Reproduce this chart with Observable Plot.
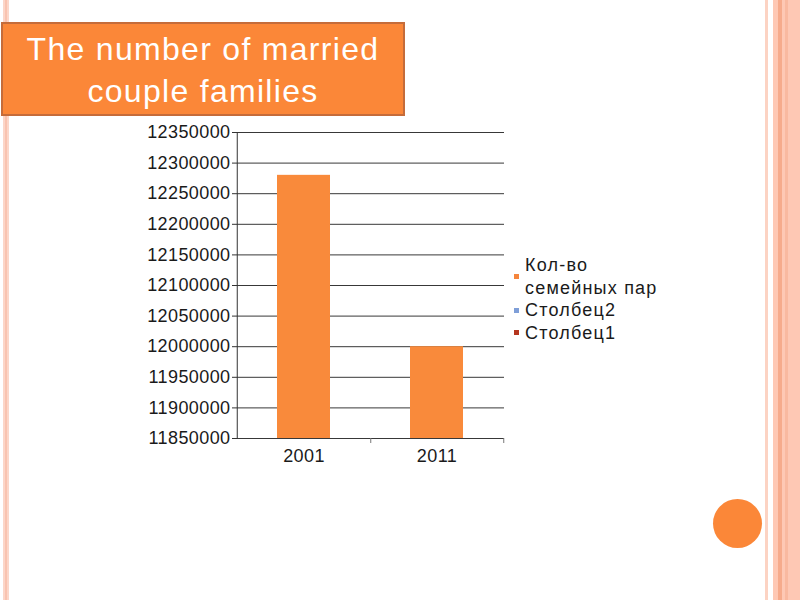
<!DOCTYPE html>
<html>
<head>
<meta charset="utf-8">
<script src="https://cdn.jsdelivr.net/npm/d3@7"></script>
<script src="https://cdn.jsdelivr.net/npm/@observablehq/plot@0.6"></script>
<style>
html, body { margin: 0; padding: 0; background: #fff; }
#page { position: relative; width: 800px; height: 600px; overflow: hidden; font-family: "Liberation Sans", Arial, sans-serif; }
.abs { position: absolute; }
#chart { position: absolute; left: 0; top: 0; }
#title { position: absolute; left: 1px; top: 22px; width: 400px; height: 90px; background: #fb8738; border: 2px solid #c56c3a; color: #fff; font-size: 32px; letter-spacing: 1.3px; line-height: 42px; text-align: center; box-sizing: content-box; }
#title div { position: relative; top: 4px; }
#legend { position: absolute; left: 514px; top: 254px; font-size: 18px; letter-spacing: 1.2px; line-height: 22.5px; color: #1a1a1a; }
.item { display: flex; align-items: center; }
.sw { width: 5px; height: 5px; margin-right: 6px; flex: none; }
.lab { width: 150px; }
</style>
</head>
<body>
<div id="page">
  <div class="abs" style="left:3px;top:0;width:6px;height:600px;background:#fcd6c8;"></div>
  <div class="abs" style="left:5px;top:0;width:2px;height:600px;background:#f9c3b0;"></div>
  <div class="abs" style="left:765px;top:0;width:3px;height:600px;background:#fcd3c3;"></div>
  <div class="abs" style="left:773px;top:0;width:27px;height:600px;background:#fec8b4;"></div>
  <div class="abs" style="left:778px;top:0;width:4px;height:600px;background:#f6ab8c;"></div>
  <div class="abs" style="left:785px;top:0;width:3px;height:600px;background:#f9b9a0;"></div>
  <div id="chart"></div>
  <div id="title"><div>The number of married<br>couple families</div></div>
  <div id="legend"></div>
  <div class="abs" style="left:713px;top:499px;width:49px;height:49px;border-radius:50%;background:#fb8738;"></div>
</div>
<script>
// ---- data ----
const years = ["2001", "2011"];
const couples = [12280000, 12000000];
const yTicks = [11850000, 11900000, 11950000, 12000000, 12050000, 12100000, 12150000, 12200000, 12250000, 12300000, 12350000];
const seriesNames = ["Кол-во семейных пар", "Столбец2", "Столбец1"];

// ---- styles ----
const seriesColors = ["#f5853c", "#7f9fd8", "#b5361f"];
const barColor = "#f98a3b";

const W = 800, H = 600, mL = 237, mR = 296, mT = 132, mB = 162;
const step = (W - mL - mR) / years.length;
const data = years.map((y, i) => ({year: y, value: couples[i]}));

const chart = Plot.plot({
  width: W, height: H,
  marginLeft: mL, marginRight: mR, marginTop: mT, marginBottom: mB,
  style: {background: "transparent", fontFamily: '"Liberation Sans", Arial, sans-serif', fontSize: "18px", color: "#1a1a1a", overflow: "visible", letterSpacing: "0.4px"},
  x: {domain: years, paddingInner: 0.6, paddingOuter: 0.3, label: null},
  y: {domain: [yTicks[0], yTicks[yTicks.length - 1]], label: null},
  marks: [
    Plot.ruleY(yTicks, {stroke: "#383838", strokeOpacity: 1}),
    Plot.barY(data, {x: "year", y1: yTicks[0], y2: "value", fill: barColor}),
    Plot.ruleX([years[0]], {x: d => d, dx: -step / 2, stroke: "#333"}),
    Plot.ruleX(years, {x: d => d, dx: step / 2, y1: yTicks[0], y2: yTicks[0], insetBottom: -5, stroke: "#777"}),
    Plot.axisY({ticks: yTicks, tickFormat: d3.format("d"), tickSize: 5, tickPadding: 2, fontSize: 18, label: null, stroke: "#333"}),
    Plot.axisX({tickSize: 0, tickPadding: 11, fontSize: 18, label: null})
  ]
});
document.getElementById("chart").appendChild(chart);

const legend = document.getElementById("legend");
seriesNames.forEach((name, i) => {
  const item = document.createElement("div");
  item.className = "item";
  const sw = document.createElement("span");
  sw.className = "sw";
  sw.style.background = seriesColors[i];
  const lab = document.createElement("span");
  lab.className = "lab";
  lab.textContent = name;
  item.appendChild(sw);
  item.appendChild(lab);
  legend.appendChild(item);
});
</script>
</body>
</html>
